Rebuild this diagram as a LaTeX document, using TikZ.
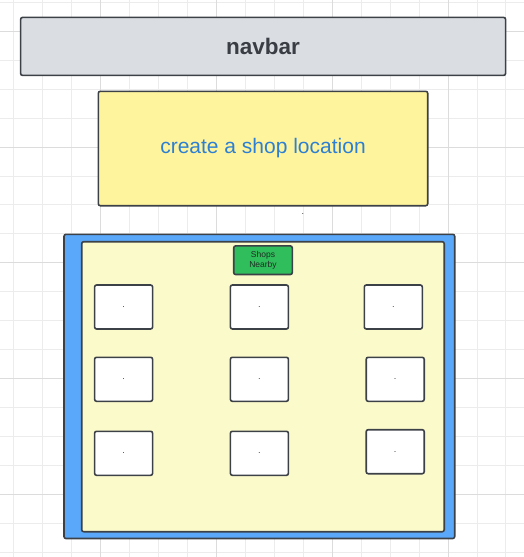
\documentclass[tikz,border=0pt]{standalone}
\usepackage{fontspec}
\setmainfont{Liberation Sans}
\definecolor{gridminor}{HTML}{ECECEC}
\definecolor{gridmajor}{HTML}{DCDCDC}
\definecolor{edge}{HTML}{3C4047}
\definecolor{navgray}{HTML}{DADDE1}
\definecolor{navtext}{HTML}{3A3D44}
\definecolor{formyellow}{HTML}{FFF49E}
\definecolor{formblue}{HTML}{2C7FD2}
\definecolor{listblue}{HTML}{5AA8FA}
\definecolor{listpale}{HTML}{FBFACB}
\definecolor{tagreen}{HTML}{30BD5C}
\definecolor{tagtext}{HTML}{1D2D22}
\begin{document}
\begin{tikzpicture}[x=1pt,y=-1pt,
	box/.style={draw=edge,line width=1.6pt,rounded corners=2pt,inner sep=0pt},
	card/.style={box,fill=white,minimum width=58pt,minimum height=44pt,font=\bfseries\fontsize{5.5}{5.5}\selectfont}]
	\useasboundingbox (0,0) rectangle (524,557);
	
	\foreach \k in {0,...,17}
		\draw [gridminor,line width=1pt] ({13.5+28.97*\k},0) -- ({13.5+28.97*\k},557);
	\foreach \k in {0,...,19}
		\draw [gridminor,line width=1pt] (0,{2.2+28.97*\k}) -- (524,{2.2+28.97*\k});
	\foreach \k in {0,...,3}
		\draw [gridmajor,line width=1pt] ({100.4+115.88*\k},0) -- ({100.4+115.88*\k},557);
	\foreach \k in {0,...,4}
		\draw [gridmajor,line width=1pt] (0,{31.2+115.88*\k}) -- (524,{31.2+115.88*\k});
	
	\node [box,fill=navgray,minimum width=485pt,minimum height=58pt,text=navtext,font=\bfseries\fontsize{22.5}{22.5}\selectfont] (navbar) at (263.1,46.4) {navbar};
	\node [box,fill=formyellow,minimum width=329.4pt,minimum height=114.4pt,text=formblue,font=\fontsize{21}{21}\selectfont] (shopform) at (263,148.5) {create a shop location};
	\node [font=\bfseries\fontsize{5.5}{5.5}\selectfont] (stray) at (303,214) {.};
	
	\node [box,fill=listblue,minimum width=390.7pt,minimum height=304.2pt] (shoplist) at (259.35,386.4) {};
	\node [box,fill=listpale,minimum width=362.5pt,minimum height=290pt] (listarea) at (262.95,386.7) {};
	\node [box,fill=tagreen,minimum width=58.6pt,minimum height=28.6pt,text=tagtext,align=center,font=\fontsize{8.5}{10}\selectfont] (nearby) at (263,260.2) {Shops\\Nearby};
	
	\node [card] (shopa) at (123.6,307) {.};
	\node [card] (shopb) at (259.4,307) {.};
	\node [card] (shopc) at (393.3,307) {.};
	\node [card] (shopd) at (123.6,379.3) {.};
	\node [card] (shope) at (259.4,379.3) {.};
	\node [card] (shopf) at (395.2,379.3) {.};
	\node [card] (shopg) at (123.6,453.3) {.};
	\node [card] (shoph) at (259.4,453.3) {.};
	\node [card] (shopi) at (395.2,451.7) {.};
\end{tikzpicture}
\end{document}
